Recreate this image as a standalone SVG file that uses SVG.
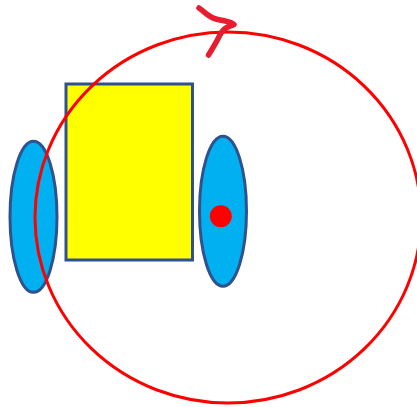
<svg xmlns="http://www.w3.org/2000/svg" width="417" height="407" viewBox="0 0 417 407">
<style>
.body{stroke:#2f528f;stroke-width:3}
.wheel{fill:#00b0f0}
.red{fill:none;stroke:#ff0000;stroke-width:3}
</style>
<rect width="417" height="407" fill="#fff"/>
<g id="body"><rect class="body" x="66" y="84" width="126.500" height="176" fill="#ffff00"/></g>
<g id="left-wheel"><ellipse class="body wheel" cx="33.500" cy="216.800" rx="23.500" ry="75.500"/></g>
<g id="right-wheel"><ellipse class="body wheel" cx="223" cy="211.200" rx="23.500" ry="75"/></g>
<g id="pivot"><circle cx="220.800" cy="216.300" r="11" fill="#ff0000"/></g>
<g id="path"><ellipse class="red" cx="228" cy="217.500" rx="193" ry="185.500"/></g>
<g id="connectors"><path d="M199 8C205 12 208 17 216 19C223 21 230 21 234 24.500C229 26 224 28 221 33C217 41 213 48 208.500 55" fill="none" stroke="#e81c2e" stroke-width="5.500" stroke-linecap="round" stroke-linejoin="round"/></g>
</svg>
